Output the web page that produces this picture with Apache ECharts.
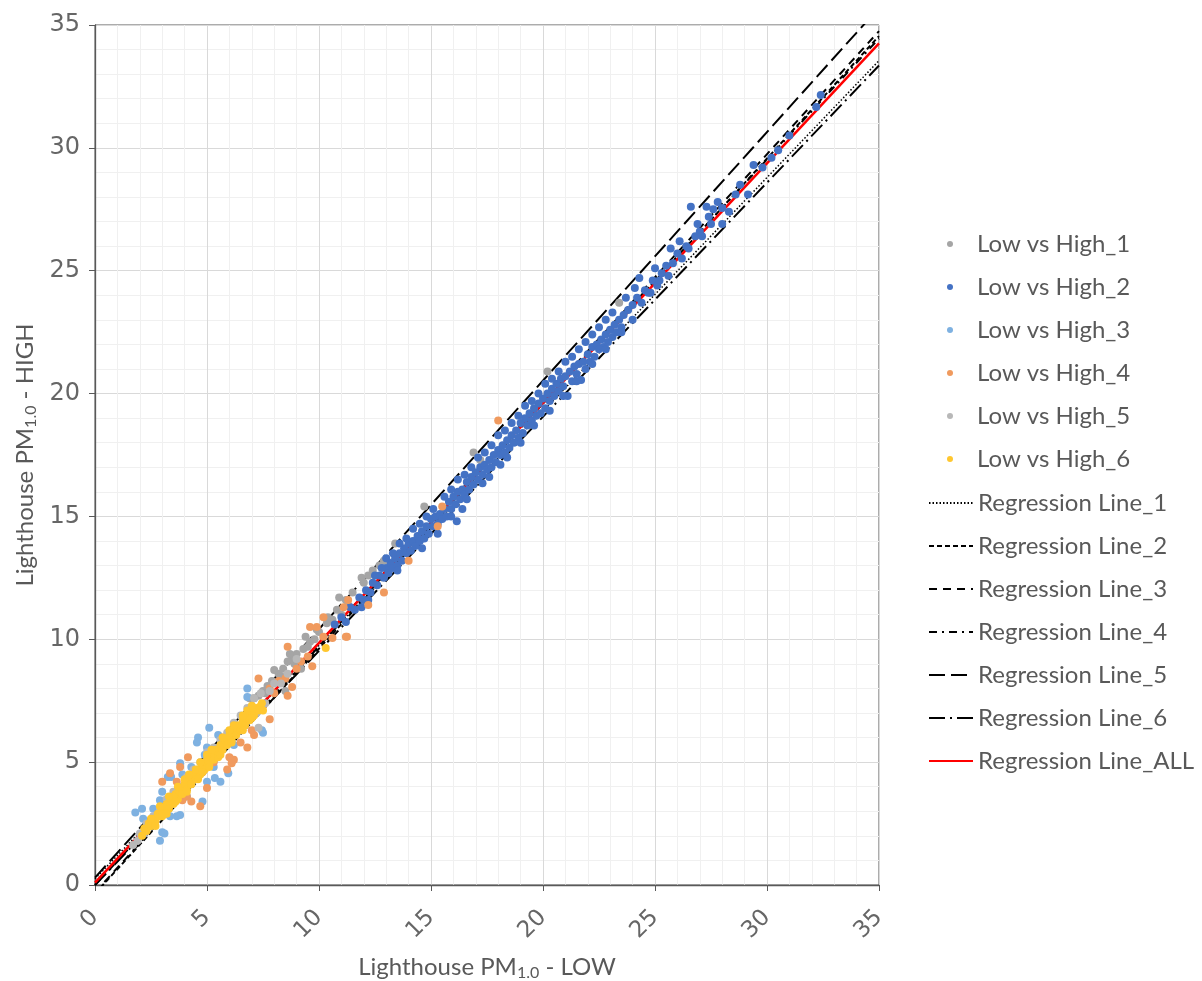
<!DOCTYPE html>
<html>
<head>
<meta charset="utf-8">
<script src="https://cdn.jsdelivr.net/npm/echarts@6/dist/echarts.min.js"></script>
<style>html,body{margin:0;padding:0;background:#fff}#c{width:1202px;height:981px}</style>
</head>
<body>
<div id="c"></div>
<script>
// ---- data ----
const scatterNames = ['Low vs High_1','Low vs High_2','Low vs High_3','Low vs High_4','Low vs High_5','Low vs High_6'];
const lineNames = ['Regression Line_1','Regression Line_2','Regression Line_3','Regression Line_4','Regression Line_5','Regression Line_6','Regression Line_ALL'];
const axisTicks = [0,5,10,15,20,25,30,35];

const high1 = [[12.0,12.3],[12.2,12.6],[12.4,12.8],[12.7,13.0],[13.4,13.9],[14.7,15.4],[16.9,17.6],[17.2,17.3],[20.2,20.9],[23.4,23.7],[11.9,12.5],[11.5,11.9],[11.2,11.6],[10.8,11.2],[10.4,10.9],[10.35,10.65],[10.0,10.3],[9.8,10.0],[9.6,9.9],[9.3,9.6],[9.0,9.4],[8.8,9.2],[8.6,9.1],[8.4,8.8],[8.2,8.6],[8.0,8.75],[7.9,8.3],[7.7,8.1],[7.5,7.9],[7.3,7.7],[7.1,7.6],[6.9,7.6],[8.5,7.9],[9.2,8.8],[12.9,13.2],[11.0,11.0],[9.5,9.7],[9.9,10.4],[10.6,10.8],[11.3,11.4],[8.9,9.0],[8.3,8.5],[7.6,7.8],[10.9,11.7],[8.7,9.4],[9.4,10.1]];
const high2 = [[10.7,10.6],[11.0,10.9],[11.2,10.7],[11.4,11.3],[11.6,11.2],[11.8,11.7],[12.0,11.6],[12.1,12.0],[12.3,11.9],[12.4,12.3],[12.6,12.2],[12.7,12.6],[12.9,12.5],[13.0,12.9],[13.1,12.7],[13.2,13.1],[13.3,12.9],[13.4,13.3],[13.5,13.0],[13.6,13.5],[13.7,13.2],[13.8,13.7],[13.9,13.5],[14.0,13.9],[14.1,13.6],[14.2,14.0],[14.3,13.8],[14.4,14.2],[14.5,14.0],[14.6,14.4],[14.7,14.1],[14.8,14.6],[14.9,14.3],[15.0,14.9],[15.1,14.6],[15.2,15.0],[15.3,14.7],[15.4,15.1],[15.5,14.9],[15.6,15.3],[15.7,15.0],[15.8,15.6],[15.9,15.3],[16.0,15.8],[16.1,15.5],[16.15,14.8],[16.2,16.0],[16.3,15.7],[16.4,16.1],[16.5,15.9],[16.6,16.4],[16.7,16.1],[16.8,16.6],[16.9,16.3],[17.0,16.8],[17.1,16.5],[17.2,17.0],[17.3,16.35],[17.3,16.7],[17.4,17.1],[17.5,16.9],[17.6,17.3],[17.7,17.0],[17.8,17.5],[17.9,17.2],[18.0,17.7],[18.1,17.5],[18.2,17.9],[18.3,17.6],[18.4,18.1],[18.5,17.8],[18.6,18.3],[18.7,18.0],[18.8,18.5],[18.9,18.2],[19.0,18.8],[19.1,18.4],[19.2,19.0],[19.3,18.7],[19.4,19.2],[19.5,18.9],[19.6,19.4],[19.7,19.1],[19.8,19.6],[19.9,19.2],[20.0,19.8],[20.1,19.4],[20.2,20.0],[20.3,19.7],[20.4,20.2],[20.5,19.9],[20.6,20.4],[20.7,20.1],[20.8,20.6],[20.9,20.3],[21.0,20.7],[21.1,19.9],[21.2,20.9],[21.3,20.5],[21.4,21.1],[21.5,20.8],[21.6,21.2],[21.7,20.55],[21.8,21.3],[21.9,21.0],[22.0,21.6],[22.1,21.3],[22.2,21.9],[22.3,21.5],[22.4,22.0],[22.5,21.8],[22.6,22.2],[22.7,21.9],[22.8,22.4],[22.9,22.1],[23.0,22.6],[23.1,22.3],[23.2,22.8],[23.3,22.5],[23.4,23.0],[23.5,22.7],[23.6,23.2],[23.7,23.9],[23.8,23.4],[24.0,23.6],[24.2,23.9],[24.4,23.7],[24.55,24.2],[24.7,24.1],[24.9,24.6],[25.1,24.4],[25.3,24.9],[25.5,25.2],[25.6,24.8],[25.8,25.3],[26.0,25.7],[26.2,25.5],[26.4,26.0],[26.6,27.6],[26.8,26.4],[27.0,26.6],[27.3,27.6],[27.4,27.2],[27.5,26.9],[27.8,27.8],[28.0,27.55],[28.0,26.9],[28.3,27.4],[28.6,28.1],[29.15,28.1],[29.4,29.3],[30.2,29.6],[31.0,30.5],[32.2,31.66],[32.4,32.15],
  [12.5,12.6],[12.8,12.9],[13.0,13.3],[13.3,13.5],[13.6,13.9],[13.9,14.1],[14.2,14.5],[14.5,14.7],[14.8,15.0],[15.1,15.3],[15.3,14.3],[15.6,15.8],[15.9,16.1],[16.2,16.5],[16.5,16.7],[16.8,17.0],[17.1,17.4],[17.4,17.6],[17.7,17.9],[18.0,18.3],[18.3,18.5],[18.6,18.8],[18.9,19.1],[19.2,19.5],[19.5,19.7],[19.8,20.0],[20.1,20.4],[20.4,20.6],[20.7,20.9],[21.0,21.3],[21.3,21.5],[21.6,21.8],[21.9,22.1],[22.2,22.4],[22.5,22.7],[22.8,23.0],[23.1,23.3],[14.6,13.7],[15.9,15.0],[16.6,15.7],[17.6,16.6],[18.4,17.4],[19.0,18.0],[19.6,18.7],[20.3,19.3],[20.9,19.9],[21.5,20.5],[22.2,21.2],[22.8,21.8],[23.5,22.5],[24.0,23.0],[16.4,15.3],[18.1,17.1],[24.1,24.3],[24.3,24.7],[24.8,24.1],[25.0,25.1],[25.2,24.6],[25.7,25.9],[26.1,26.2],[26.5,25.9],[26.9,26.9],[27.1,26.4],[27.6,27.5],[28.8,28.5],[29.8,29.2],[30.5,29.9],[12.2,11.6],[13.5,12.8],[11.9,11.3]];
const high3 = [[6.8,8.0],[6.8,7.65],[5.1,6.4],[5.5,6.1],[4.6,6.0],[4.55,5.8],[5.0,5.6],[5.95,4.55],[3.8,4.95],[3.25,4.4],[3.4,4.4],[3.0,3.8],[2.9,3.45],[3.35,3.45],[2.1,3.1],[1.8,2.95],[2.15,2.7],[3.0,2.15],[2.9,1.8],[3.1,2.1],[3.35,2.8],[3.8,2.85],[3.65,2.8],[4.8,3.4],[5.0,4.2],[5.35,4.35],[5.6,4.2],[7.5,6.2],[7.45,6.3],[2.4,2.5],[2.8,2.8],[3.3,3.2],[3.7,3.7],[4.2,4.1],[4.6,4.6],[5.1,5.0],[5.5,5.5],[6.0,5.9],[6.4,6.4],[6.8,6.7],[4.3,4.8],[4.9,5.3],[2.6,3.1],[3.9,4.5],[4.1,3.6],[5.3,4.8],[6.2,5.7]];
const high4 = [[9.6,10.5],[8.6,9.7],[7.3,8.4],[9.7,8.9],[11.25,10.1],[10.6,10.05],[7.8,8.0],[8.8,8.06],[8.6,7.7],[7.8,6.75],[6.8,5.6],[5.7,6.0],[6.2,5.1],[4.15,5.2],[3.0,4.2],[3.65,4.2],[4.1,3.6],[4.3,3.4],[4.55,4.4],[5.0,3.95],[6.0,5.2],[6.1,4.95],[7.1,6.1],[6.5,5.8],[7.0,6.3],[5.9,4.7],[3.8,4.8],[3.35,4.55],[3.9,3.45],[4.7,3.2],[3.5,3.4],[4.0,3.9],[4.5,4.5],[5.0,4.9],[5.5,5.4],[6.0,5.8],[6.5,6.4],[7.0,6.9],[7.5,7.3],[8.0,7.8],[8.5,8.4],[9.0,8.8],[9.5,9.3],[18.0,18.9],[15.5,15.4],[15.3,14.6],[14.0,13.2],[12.9,11.9],[12.2,11.4],[11.2,10.1],[11.3,11.6],[11.1,11.3],[9.9,10.5],[10.2,10.9],[10.2,10.1],[8.2,8.3],[9.2,9.1],[5.3,5.0],[4.8,4.6]];
const high5 = [[1.7,1.63],[2.0,2.1],[2.3,2.5],[2.6,2.8],[2.9,3.1],[3.2,3.5],[3.5,3.8],[3.8,4.0],[4.1,4.4],[4.4,4.7],[4.7,5.0],[5.0,5.4],[5.3,5.6],[5.6,5.9],[5.9,6.2],[6.2,6.6],[6.5,6.9],[6.8,7.2],[7.1,7.6],[7.4,7.8],[7.3,6.4],[7.8,7.9],[8.3,8.2],[1.9,1.8],[2.2,2.1],[2.5,2.4],[3.0,2.9],[3.6,3.5],[4.2,4.1],[4.8,4.7],[5.4,5.3],[6.0,5.9],[6.6,6.5],[7.2,7.0],[7.6,7.4],[8.0,8.2],[8.6,8.6],[9.0,9.2]];
const high6 = [[2.1,2.0],[2.2,2.3],[2.3,2.2],[2.4,2.5],[2.5,2.4],[2.6,2.7],[2.7,2.6],[2.8,2.9],[2.9,2.8],[3.0,3.1],[3.1,2.9],[3.2,3.3],[3.3,3.1],[3.4,3.5],[3.5,3.3],[3.6,3.7],[3.7,3.5],[3.8,3.9],[3.9,3.7],[4.0,4.1],[4.1,3.9],[4.2,4.3],[4.3,4.1],[4.4,4.5],[4.5,4.3],[4.6,4.7],[4.7,4.5],[4.8,4.9],[4.9,4.7],[5.0,5.1],[5.1,4.9],[5.2,5.3],[5.3,5.1],[5.4,5.5],[5.5,5.3],[5.6,5.7],[5.7,5.5],[5.8,5.9],[5.9,5.7],[6.0,6.1],[6.1,5.9],[6.2,6.3],[6.3,6.1],[6.4,6.5],[6.5,6.3],[6.6,6.7],[6.7,6.5],[6.8,6.9],[6.9,6.7],[7.0,7.1],[7.1,6.9],[7.2,7.2],[7.3,7.1],[7.4,7.3],[6.8,7.1],[7.05,7.2],[7.45,7.4],[10.3,9.65],[4.0,4.3],[4.5,4.7],[5.0,5.3],[3.5,3.6],[6.0,6.3],[5.5,5.2],[3.0,2.8],[4.8,4.6],
  [2.5,2.7],[2.9,3.2],[3.3,3.6],[3.7,4.0],[4.2,4.5],[4.7,5.0],[5.2,5.5],[5.7,6.0],[6.2,6.5],[6.6,6.9],[7.0,7.3],[2.7,2.4],[3.2,2.9],[3.6,3.4],[4.1,3.8],[4.6,4.3],[5.1,4.8],[5.6,5.3],[6.1,5.8],[6.6,6.3],[7.0,6.8],[7.5,7.1]];

// regression lines: value at x = 0 and at x = 35
const regX = [0, 35];
const regY0 = [0.25, -0.35, -0.3, 0.0, 0.3, 0.0, 0.1];
const regY35 = [33.55, 34.55, 34.75, 34.45, 35.7, 33.35, 34.25];

// ---- styles ----
const scatterColors = ['#A5A5A5','#4472C4','#7EB1E1','#F09A5E','#B8B8B8','#FFC72F'];
const lineTypes = [[1.5,2],[5,3],[8,6],[8,5,2,5],[16,6],[16,5,2,5],'solid'];
const lineColors = ['#000','#000','#000','#000','#000','#000','#FF0000'];
const lineWidths = [1.5,2,2,2,2,2,2.5];
const scatterData = [high1,high2,high3,high4,high5,high6];

const FONT = 'Lato';
const TICKFONT = 'DejaVu Sans';
const series = [];
lineNames.forEach((n,i)=>{
  series.push({
    name:n, type:'line', z:1, symbol:'none', silent:true, animation:false,
    data:[[regX[0],regY0[i]],[regX[1],regY35[i]]],
    lineStyle:{color:lineColors[i], width:lineWidths[i], type:lineTypes[i]},
    itemStyle:{color:lineColors[i]}
  });
});
scatterNames.forEach((n,i)=>{
  series.push({
    name:n, type:'scatter', z:2, symbolSize:8, animation:false,
    data:scatterData[i], itemStyle:{color:scatterColors[i], opacity:1}
  });
});

const axisCommon = {
  type:'value', min:0, max:35, interval:5,
  axisLine:{show:true, lineStyle:{color:'#595959', width:1.3}},
  axisTick:{show:true, length:6, lineStyle:{color:'#595959'}},
  splitLine:{show:true, lineStyle:{color:'#D9D9D9', width:1}},
  minorTick:{show:false, splitNumber:5},
  minorSplitLine:{show:true, lineStyle:{color:'#F0F0F0', width:1}},
  nameLocation:'middle'
};
const rich = {
  a:{fontFamily:FONT, fontSize:24, color:'#595959'},
  s:{fontFamily:FONT, fontSize:16, color:'#595959', padding:[11,0,0,0]}
};

const chart = echarts.init(document.getElementById('c'), null, {renderer:'canvas'});
chart.setOption({
  backgroundColor:'#fff',
  animation:false,
  grid:{left:95, right:323, top:25, bottom:96, outerBoundsMode:'none', containLabel:false,
    show:true, borderColor:'#595959', borderWidth:1, backgroundColor:'transparent'},
  xAxis:Object.assign({}, axisCommon, {
    name:'{a|Lighthouse PM}{s|1.0}{a| - LOW}', nameGap:69,
    nameTextStyle:{rich:rich},
    axisLabel:{rotate:45, interval:0, margin:29, fontFamily:TICKFONT, fontSize:23, color:'#666666',
      formatter:v=>axisTicks.indexOf(v)>=0?String(v):''}
  }),
  yAxis:Object.assign({}, axisCommon, {
    name:'{a|Lighthouse PM}{s|1.0}{a| - HIGH}', nameGap:54, nameRotate:90,
    nameTextStyle:{rich:rich},
    axisLabel:{margin:15, fontFamily:TICKFONT, fontSize:24, color:'#666666',
      formatter:v=>axisTicks.indexOf(v)>=0?String(v):''}
  }),
  legend:[
    {data:scatterNames, orient:'vertical', left:947, top:232, padding:0, itemWidth:44, itemHeight:6, itemGap:19, icon:'circle',
      textStyle:{fontFamily:FONT, fontSize:24, color:'#595959', lineHeight:24}, selectedMode:false},
    {data:lineNames, orient:'vertical', left:928, top:491, padding:0, itemWidth:44, itemHeight:1, itemGap:19,
      itemStyle:{opacity:0},
      textStyle:{fontFamily:FONT, fontSize:24, color:'#595959', lineHeight:24}, selectedMode:false}
  ],
  series:series
});
</script>
</body>
</html>
